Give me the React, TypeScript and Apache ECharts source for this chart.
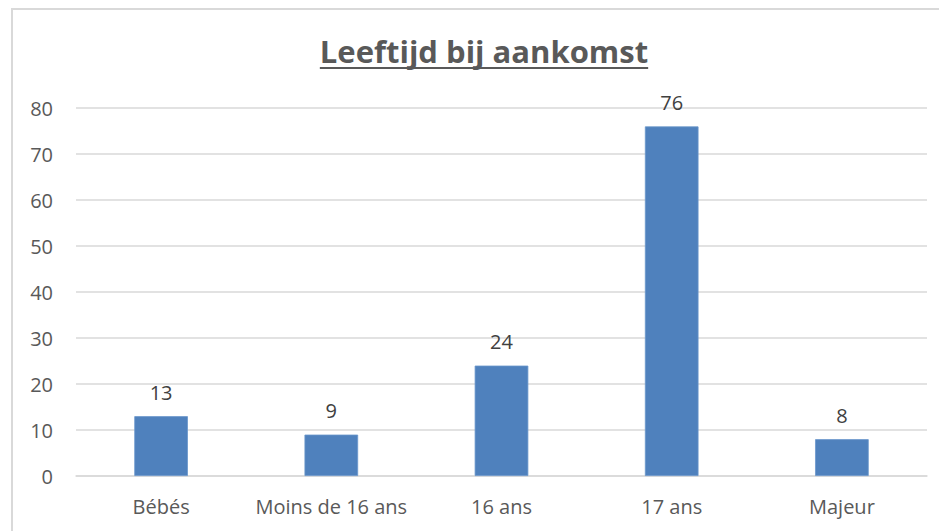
import React, { useEffect, useRef } from "react";
import * as echarts from "echarts";

const categories = ["Bébés", "Moins de 16 ans", "16 ans", "17 ans", "Majeur"];
const values = [13, 9, 24, 76, 8];
const yTicks = { min: 0, max: 80, interval: 10 };
const titleText = "Leeftijd bij aankomst";

const FONT = "'Open Sans', 'Noto Sans', sans-serif";

export default function App() {
  const ref = useRef<HTMLDivElement>(null);
  useEffect(() => {
    document.body.style.margin = "0";
    if (!ref.current) return;
    const chart = echarts.init(ref.current, null, { renderer: "svg" });

    const titleSize = 31;
    const titleFont = `bold ${titleSize}px ${FONT}`;
    const canvas = document.createElement("canvas");
    const ctx = canvas.getContext("2d")!;
    ctx.font = titleFont;
    const tw = ctx.measureText(titleText).width;
    const cx = 484;
    const titleY = 51;

    chart.setOption({
      animation: false,
      backgroundColor: "#ffffff",
      grid: { left: 76, right: 12, top: 108, bottom: 55, containLabel: false },
      graphic: [
        {
          type: "rect",
          shape: { x: 12, y: 9, width: 1000, height: 1000 },
          style: { fill: "none", stroke: "#d9d9d9", lineWidth: 2 },
          silent: true,
        },
        {
          type: "text",
          x: cx,
          y: titleY,
          style: {
            text: titleText,
            font: titleFont,
            fill: "#595959",
            textAlign: "center",
            textVerticalAlign: "middle",
          },
        },
        {
          type: "line",
          shape: { x1: cx - tw / 2, y1: 68, x2: cx + tw / 2, y2: 68 },
          style: { stroke: "#595959", lineWidth: 2 },
        },
      ],
      xAxis: {
        type: "category",
        data: categories,
        axisLine: { show: true, lineStyle: { color: "#d9d9d9", width: 1.5 } },
        axisTick: { show: false },
        axisLabel: {
          interval: 0,
          color: "#595959",
          fontSize: 20,
          fontFamily: FONT,
          margin: 20,
        },
      },
      yAxis: {
        type: "value",
        min: yTicks.min,
        max: yTicks.max,
        interval: yTicks.interval,
        axisLine: { show: false },
        axisTick: { show: false },
        splitLine: { lineStyle: { color: "#d9d9d9", width: 1.5 } },
        axisLabel: {
          color: "#595959",
          fontSize: 20,
          fontFamily: FONT,
          margin: 23,
        },
      },
      series: [
        {
          type: "bar",
          data: values,
          barWidth: "31.5%",
          itemStyle: { color: "#4f81bd", borderColor: "#6a97cc", borderWidth: 0.8 },
          label: {
            show: true,
            position: "top",
            distance: 14,
            color: "#404040",
            fontSize: 20,
            fontFamily: FONT,
          },
        },
      ],
    });
    return () => chart.dispose();
  }, []);
  return (
    <div
      ref={ref}
      style={{ position: "absolute", left: 0, top: 0, width: 939, height: 531 }}
    />
  );
}
